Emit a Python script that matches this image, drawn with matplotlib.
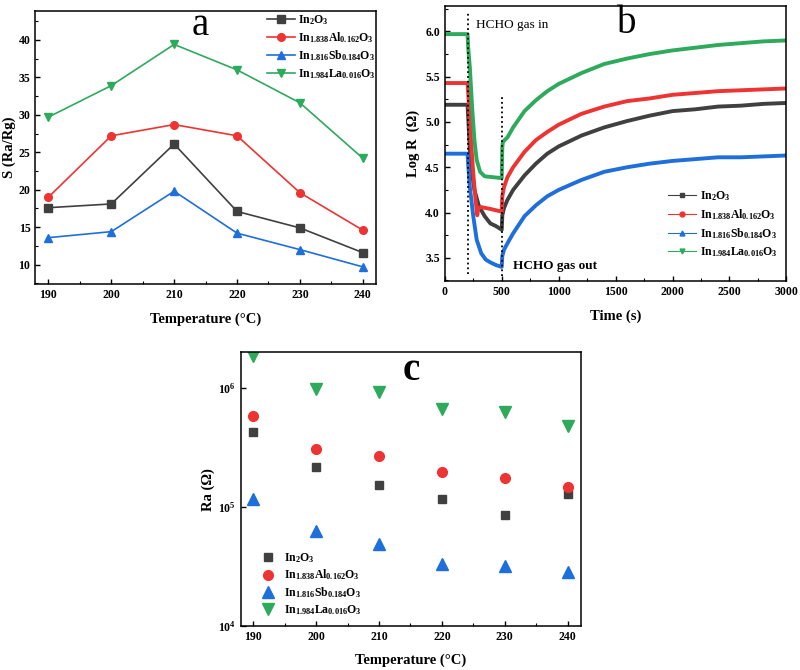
import numpy as np
import matplotlib
matplotlib.use("Agg")
import matplotlib.pyplot as plt
from matplotlib.ticker import MultipleLocator, LogLocator, NullLocator

plt.rcParams['font.family'] = ['Liberation Serif', 'DejaVu Serif']
plt.rcParams['font.weight'] = 'bold'
plt.rcParams['axes.labelweight'] = 'bold'
plt.rcParams['mathtext.fontset'] = 'custom'
plt.rcParams['mathtext.rm'] = 'Liberation Serif:bold'
plt.rcParams['mathtext.bf'] = 'Liberation Serif:bold'
plt.rcParams['mathtext.it'] = 'Liberation Serif:bold:italic'
plt.rcParams['xtick.direction'] = 'in'
plt.rcParams['ytick.direction'] = 'in'

# ---- data ----
labels = [r'In$_2$O$_3$', r'In$_{1.838}$Al$_{0.162}$O$_3$',
          r'In$_{1.816}$Sb$_{0.184}$O$_3$', r'In$_{1.984}$La$_{0.016}$O$_3$']
colors = ['#404040', '#ee3333', '#1e6fdc', '#2eaa5c']

temps = [190, 200, 210, 220, 230, 240]

# (a) sensitivity S = Ra/Rg
s_in2o3 = [17.6, 18.1, 26.1, 17.1, 14.9, 11.6]
s_al = [19.0, 27.2, 28.7, 27.2, 19.6, 14.6]
s_sb = [13.6, 14.4, 19.8, 14.2, 12.0, 9.7]
s_la = [29.7, 33.9, 39.4, 36.0, 31.6, 24.2]

# (b) dynamic response, log R vs time
t_in2o3 = [0, 200, 210, 220, 240, 260, 300, 350, 400, 450, 500, 505, 520, 550, 600, 700, 800, 900,
           1000, 1200, 1400, 1600, 1800, 2000, 2200, 2400, 2600, 2800, 3000]
r_in2o3 = [5.19, 5.19, 4.94, 4.69, 4.43, 4.25, 4.07, 3.96, 3.88, 3.85, 3.81, 3.97, 4.05, 4.14, 4.25,
           4.41, 4.54, 4.65, 4.73, 4.85, 4.94, 5.01, 5.07, 5.12, 5.14, 5.17, 5.18, 5.20, 5.21]

t_al = [0, 200, 210, 230, 250, 270, 285, 295, 320, 400, 500, 505, 520, 550, 600, 700, 800, 900,
        1000, 1200, 1400, 1600, 1800, 2000, 2200, 2400, 2600, 2800, 3000]
r_al = [5.43, 5.43, 5.23, 4.80, 4.43, 4.14, 3.97, 4.05, 4.06, 4.04, 4.01, 4.18, 4.28, 4.39, 4.50,
        4.67, 4.80, 4.89, 4.97, 5.09, 5.17, 5.23, 5.26, 5.30, 5.32, 5.34, 5.35, 5.36, 5.37]

t_sb = [0, 200, 205, 220, 250, 280, 320, 360, 400, 450, 500, 505, 520, 550, 600, 700, 800, 900,
        1000, 1200, 1400, 1600, 1800, 2000, 2200, 2400, 2600, 2800, 3000]
r_sb = [4.65, 4.65, 4.54, 4.28, 3.96, 3.70, 3.55, 3.48, 3.45, 3.42, 3.40, 3.52, 3.59, 3.66, 3.77,
        3.96, 4.08, 4.18, 4.25, 4.36, 4.45, 4.50, 4.54, 4.57, 4.59, 4.61, 4.61, 4.62, 4.63]

t_la = [0, 200, 205, 220, 240, 260, 280, 310, 350, 500, 505, 510, 550, 600, 700, 800, 900,
        1000, 1200, 1400, 1600, 1800, 2000, 2200, 2400, 2600, 2800, 3000]
r_la = [5.97, 5.97, 5.83, 5.60, 5.16, 4.80, 4.58, 4.45, 4.40, 4.38, 4.72, 4.78, 4.83, 4.94, 5.12,
        5.24, 5.34, 5.42, 5.54, 5.64, 5.70, 5.75, 5.79, 5.82, 5.85, 5.87, 5.89, 5.90]

# (c) baseline resistance Ra in air
ra_in2o3 = [4.27e5, 2.17e5, 1.53e5, 1.17e5, 8.6e4, 1.29e5]
ra_al = [5.85e5, 3.05e5, 2.69e5, 1.96e5, 1.75e5, 1.46e5]
ra_sb = [1.17e5, 6.25e4, 4.89e4, 3.34e4, 3.17e4, 2.83e4]
ra_la = [1.85e6, 9.87e5, 9.37e5, 6.66e5, 6.33e5, 4.82e5]

markers = ['s', 'o', '^', 'v']

fig = plt.figure(figsize=(8, 6.7), dpi=100)
ax_a = fig.add_axes([0.044, 0.576, 0.426, 0.408])
ax_b = fig.add_axes([0.556, 0.580, 0.427, 0.411])
ax_c = fig.add_axes([0.301, 0.066, 0.425, 0.408])


def style(ax, size=8.5):
    for sp in ax.spines.values():
        sp.set_linewidth(1.1)
    ax.tick_params(which='major', length=3.5, width=1, labelsize=size)
    ax.tick_params(which='minor', length=2, width=0.8)


# ---- panel a ----
for ys, c, m, lab in zip([s_in2o3, s_al, s_sb, s_la], colors, markers, labels):
    ax_a.plot(temps, ys, color=c, marker=m, markersize=5.5, lw=1.2, label=lab)
ax_a.set_xlim(187.9, 242.1)
ax_a.set_ylim(7.4, 43.9)
ax_a.xaxis.set_major_locator(MultipleLocator(10))
ax_a.xaxis.set_minor_locator(MultipleLocator(5))
ax_a.yaxis.set_major_locator(MultipleLocator(5))
ax_a.yaxis.set_minor_locator(MultipleLocator(2.5))
ax_a.set_xlabel('Temperature (\u00b0C)', fontsize=10.5, labelpad=8)
ax_a.set_ylabel('S (Ra/Rg)', fontsize=10.5)
ax_a.yaxis.set_label_coords(-0.057, 0.5)
ax_a.legend(loc='upper left', bbox_to_anchor=(0.665, 1.01), frameon=False, fontsize=8.5,
            handlelength=2.4, handletextpad=0.3, labelspacing=0.3, borderaxespad=0)
ax_a.text(0.485, 0.912, 'a', transform=ax_a.transAxes, fontsize=28, fontweight='normal',
          ha='center', va='baseline')
style(ax_a)

# ---- panel b ----
for tt, rr, c, m, lab in zip([t_in2o3, t_al, t_sb, t_la], [r_in2o3, r_al, r_sb, r_la],
                             colors, markers, labels):
    ax_b.plot(tt, rr, color=c, lw=2.8, solid_capstyle='butt')
    ax_b.plot([], [], color=c, marker=m, markersize=3.5, lw=0.8, label=lab)
ax_b.plot([200, 200], [3.32, 6.22], color='black', ls=':', lw=1.3)
ax_b.plot([500, 500], [3.30, 5.29], color='black', ls=':', lw=1.3)
ax_b.text(278, 6.07, 'HCHO gas in', fontsize=9.5, fontweight='normal', va='center')
ax_b.text(601, 3.41, 'HCHO gas out', fontsize=9.5, va='center')
ax_b.text(0.534, 0.902, 'b', transform=ax_b.transAxes, fontsize=28, fontweight='normal',
          ha='center', va='baseline')
ax_b.set_xlim(0, 3000)
ax_b.set_ylim(3.24, 6.28)
ax_b.xaxis.set_major_locator(MultipleLocator(500))
ax_b.xaxis.set_minor_locator(MultipleLocator(250))
ax_b.yaxis.set_major_locator(MultipleLocator(0.5))
ax_b.yaxis.set_minor_locator(MultipleLocator(0.25))
ax_b.set_xlabel('Time (s)', fontsize=10.5, labelpad=8)
ax_b.set_ylabel('Log R  (\u03a9)', fontsize=10.5)
ax_b.yaxis.set_label_coords(-0.072, 0.5)
ax_b.legend(loc='upper left', bbox_to_anchor=(0.64, 0.352), frameon=False, fontsize=8.5,
            handlelength=2.4, handletextpad=0.3, labelspacing=0.35, borderaxespad=0)
style(ax_b)

# ---- panel c ----
msize = [6, 7, 8, 8]
for ys, c, m, lab, ms in zip([ra_in2o3, ra_al, ra_sb, ra_la], colors, markers, labels, msize):
    ax_c.plot(temps, ys, color=c, marker=m, markersize=ms, lw=0, label=lab)
ax_c.set_yscale('log')
ax_c.set_xlim(188.0, 242.1)
ax_c.set_ylim(1e4, 2e6)
ax_c.xaxis.set_major_locator(MultipleLocator(10))
ax_c.xaxis.set_minor_locator(MultipleLocator(5))
ax_c.yaxis.set_major_locator(LogLocator(base=10))
ax_c.yaxis.set_minor_locator(NullLocator())
ax_c.set_xlabel('Temperature (\u00b0C)', fontsize=10.5, labelpad=8)
ax_c.set_ylabel('Ra (\u03a9)', fontsize=10.5)
ax_c.yaxis.set_label_coords(-0.076, 0.5)
ax_c.legend(loc='lower left', bbox_to_anchor=(0.04, 0.015), frameon=False, fontsize=8.5,
            handlelength=1.5, handletextpad=0.6, labelspacing=0.25, borderaxespad=0)
ax_c.text(0.5, 0.899, 'c', transform=ax_c.transAxes, fontsize=28, fontweight='bold',
          ha='center', va='baseline')
style(ax_c)

fig.savefig('out.png', dpi=100)
